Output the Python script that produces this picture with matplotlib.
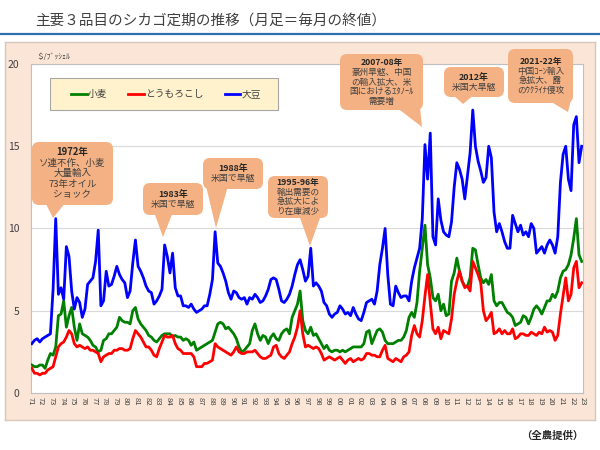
import numpy as np
import matplotlib
matplotlib.use('Agg')
import matplotlib.pyplot as plt
from matplotlib.patches import Rectangle, FancyBboxPatch, Polygon
from matplotlib.lines import Line2D
from matplotlib.transforms import IdentityTransform

plt.rcParams['font.family'] = ['Noto Sans CJK JP', 'DejaVu Sans']

# quarterly month-end closes, 4 per year (1971..2022), $/bushel
years = list(range(1971, 2023))

wheat = [
    1.7, 1.6, 1.6, 1.7,  1.7, 1.5, 2.0, 2.4,  2.3, 2.8, 4.7, 4.8,  5.6, 4.0, 4.7, 5.2,   # 71-74
    4.0, 3.2, 4.2, 3.6,  3.5, 3.4, 3.2, 2.9,  2.8, 2.5, 2.6, 3.2,  3.3, 3.6, 3.6, 3.8,   # 75-78
    4.0, 4.6, 4.4, 4.3,  4.3, 4.2, 5.0, 5.2,  4.5, 4.2, 4.0, 3.8,  3.5, 3.4, 3.2, 3.1,   # 79-82
    3.3, 3.5, 3.6, 3.6,  3.6, 3.4, 3.5, 3.4,  3.4, 3.2, 3.3, 3.2,  2.9, 3.1, 2.6, 2.7,   # 83-86
    2.8, 2.9, 3.0, 3.1,  3.2, 3.7, 4.2, 4.3,  4.2, 3.9, 4.0, 3.8,  3.6, 3.3, 2.8, 2.5,   # 87-90
    2.6, 2.8, 3.0, 3.8,  4.2, 3.6, 3.2, 3.5,  3.4, 3.0, 3.4, 3.6,  3.3, 3.2, 3.6, 3.8,   # 91-94
    3.9, 3.6, 4.6, 5.0,  5.4, 6.2, 4.4, 3.8,  3.6, 4.0, 3.5, 3.6,  3.3, 3.0, 2.7, 2.9,   # 95-98
    2.6, 2.5, 2.6, 2.6,  2.5, 2.6, 2.5, 2.6,  2.7, 2.8, 2.8, 2.8,  2.8, 3.0, 3.7, 3.8,   # 99-02
    3.0, 3.4, 3.8, 3.9,  3.7, 3.2, 3.0, 3.0,  3.0, 3.1, 3.2, 3.2,  3.4, 3.8, 4.6, 4.9,   # 03-06
    4.6, 5.5, 7.4, 8.8,  10.2, 7.8, 7.0, 5.8,  5.6, 6.0, 5.0, 5.4,  4.7, 4.8, 6.8, 7.3,  # 07-10
    8.2, 7.4, 6.8, 6.5,  6.5, 7.0, 8.8, 8.7,  7.8, 7.0, 6.7, 6.9,  6.6, 7.2, 5.6, 5.3,   # 11-14
    5.5, 5.5, 5.2, 4.9,  4.8, 4.6, 4.1, 4.2,  4.3, 4.7, 4.6, 4.2,  4.6, 5.1, 5.3, 5.1,   # 15-18
    4.8, 5.2, 5.6, 5.6,  6.0, 5.8, 6.2, 7.0,  7.4, 7.5, 7.8, 8.4,  9.4, 10.6, 8.4, 8.0,  # 19-22
]

corn = [
    1.5, 1.2, 1.2, 1.1,  1.2, 1.2, 1.4, 1.5,  1.6, 2.2, 2.8, 3.0,  3.1, 3.4, 3.8, 3.6,   # 71-74
    3.0, 2.8, 2.9, 2.8,  2.7, 2.8, 2.6, 2.6,  2.5, 2.4, 1.9, 2.2,  2.3, 2.4, 2.4, 2.6,   # 75-78
    2.6, 2.7, 2.7, 2.6,  2.6, 2.7, 3.3, 3.8,  3.6, 3.4, 3.1, 2.8,  2.8, 2.6, 2.3, 2.2,   # 79-82
    2.7, 3.1, 3.5, 3.4,  3.4, 3.5, 3.0, 2.7,  2.6, 2.4, 2.4, 2.4,  2.4, 2.2, 1.6, 1.6,   # 83-86
    1.6, 1.8, 1.8, 1.9,  2.0, 3.0, 2.8, 2.7,  2.6, 2.5, 2.4, 2.3,  2.5, 2.8, 2.5, 2.4,   # 87-90
    2.4, 2.5, 2.5, 2.5,  2.6, 2.4, 2.2, 2.1,  2.1, 2.2, 2.3, 2.8,  2.9, 2.4, 2.2, 2.1,   # 91-94
    2.3, 2.5, 3.0, 3.4,  4.0, 5.0, 3.6, 2.8,  2.9, 2.8, 2.7, 2.8,  2.7, 2.4, 2.0, 2.1,   # 95-98
    2.2, 2.1, 2.0, 2.1,  2.2, 2.0, 1.8, 2.0,  2.1, 1.9, 2.0, 2.1,  2.0, 2.1, 2.4, 2.4,   # 99-02
    2.3, 2.3, 2.2, 2.2,  2.6, 2.9, 2.1, 2.0,  1.9, 2.1, 2.0, 1.9,  2.2, 2.3, 2.5, 3.5,   # 03-06
    4.1, 3.6, 3.4, 4.4,  5.9, 7.2, 5.5, 3.9,  3.6, 4.0, 3.3, 3.8,  3.7, 3.6, 4.5, 6.0,   # 07-10
    6.8, 7.4, 6.8, 6.4,  6.5, 6.2, 8.0, 7.6,  7.2, 6.7, 5.0, 4.4,  4.6, 4.9, 3.6, 3.7,   # 11-14
    3.9, 3.6, 3.8, 3.6,  3.6, 3.9, 3.3, 3.4,  3.6, 3.6, 3.5, 3.5,  3.7, 3.6, 3.5, 3.7,   # 15-18
    3.6, 4.0, 3.7, 3.8,  3.7, 3.2, 3.5, 4.8,  5.9, 7.0, 5.6, 6.0,  7.6, 8.0, 6.4, 6.7,   # 19-22
]

soy = [
    3.0, 3.2, 3.3, 3.1,  3.3, 3.4, 3.5, 3.6,  6.3, 10.6, 6.0, 6.4,  5.7, 8.9, 8.3, 6.2,  # 71-74
    5.1, 5.8, 5.5, 4.6,  5.1, 6.6, 6.8, 7.0,  8.0, 9.9, 5.3, 5.6,  7.4, 6.5, 6.6, 7.1,   # 75-78
    7.7, 7.2, 6.9, 6.7,  5.8, 6.2, 7.9, 9.3,  7.7, 7.4, 7.0, 6.5,  6.2, 6.1, 5.4, 5.6,   # 79-82
    5.9, 6.3, 9.0, 8.3,  7.3, 8.5, 6.4, 5.9,  5.9, 5.3, 5.3, 5.2,  5.4, 5.1, 4.9, 5.0,   # 83-86
    5.1, 5.3, 5.3, 6.0,  6.9, 9.8, 7.9, 7.7,  7.3, 6.8, 6.1, 5.7,  6.2, 6.1, 5.8, 5.7,   # 87-90
    5.8, 5.4, 5.8, 5.7,  6.0, 5.8, 5.5, 5.6,  5.9, 6.3, 6.9, 7.0,  6.9, 6.3, 5.6, 5.5,   # 91-94
    5.7, 6.0, 6.5, 7.2,  7.8, 8.1, 7.5, 6.8,  7.1, 8.8, 6.5, 6.7,  6.5, 6.2, 5.5, 5.3,   # 95-98
    4.8, 4.6, 4.8, 4.9,  5.3, 5.1, 4.8, 4.9,  4.7, 5.2, 4.8, 4.5,  4.4, 4.9, 5.5, 5.6,   # 99-02
    5.7, 5.4, 6.2, 7.8,  8.8, 10.0, 7.2, 5.4,  5.3, 6.5, 6.1, 5.8,  5.9, 5.9, 5.6, 6.8,  # 03-06
    7.6, 8.2, 8.8, 10.6,  15.1, 13.0, 15.8, 9.5,  9.0, 11.8, 10.5, 9.8,  9.6, 9.5, 10.4, 12.5,  # 07-10
    14.0, 13.6, 13.0, 11.8,  13.2, 14.6, 17.2, 15.0,  14.1, 13.5, 12.8, 13.1,  15.0, 14.3, 11.0, 9.8,  # 11-14
    10.3, 9.8, 9.2, 8.8,  8.8, 10.8, 10.3, 9.8,  10.2, 9.6, 9.8, 9.5,  10.3, 10.0, 8.5, 8.7,  # 15-18
    8.9, 8.5, 9.0, 9.3,  9.0, 8.5, 9.5, 12.8,  14.5, 15.0, 13.0, 12.3,  16.3, 16.8, 14.0, 15.0,  # 19-22
]

tick_years = list(range(1971, 2024))
tick_labels = ['%02d' % (y % 100) for y in tick_years]
y_ticks = [0, 5, 10, 15, 20]

# callout texts (first line bold)
callout_texts = [
    ["1972年", "ソ連不作、小麦", "大量輸入", "73年オイル", "ショック"],
    ["1983年", "米国で旱魃"],
    ["1988年", "米国で旱魃"],
    ["1995-96年", "輸出需要の", "急拡大によ", "り在庫減少"],
    ["2007-08年", "豪州旱魃、中国", "の輸入拡大、米", "国におけるｴﾀﾉｰﾙ", "需要増"],
    ["2012年", "米国大旱魃"],
    ["2021-22年", "中国ｺｰﾝ輸入", "急拡大、露", "のｳｸﾗｲﾅ侵攻"],
]
# layout in picture pixels: box (x0, y0, x1, y1), pointer base (xa, xb) and tip (x, y)
callout_boxes = [(32, 142, 113, 205), (143, 183, 203, 215), (203, 158, 263, 189), (268, 176, 328, 218),
                 (340, 54, 423, 110), (444, 67, 504, 97), (508, 49, 573, 103)]
callout_bases = [(45, 66), (154, 173), (206, 228), (299, 321), (396, 420), (452, 475), (548, 571)]
callout_tips = [(53, 218), (163, 237), (216, 228), (310, 246), (422, 127), (463, 104), (568, 112)]
callout_fs = [6.8, 6.4, 6.4, 6.2, 6.2, 6.4, 6.2]

t = (np.array(years)[:, None] + (np.arange(4) + 0.5) / 4).ravel()

W, H = 600, 450
fig = plt.figure(figsize=(6, 4.5), dpi=100)

# peach background panel (own axes underneath) and title rule
bg = fig.add_axes([5 / W, 30 / H, 590 / W, 378 / H], zorder=-5)
bg.set_facecolor('#FBE5D6')
bg.set_xticks([])
bg.set_yticks([])
for s in bg.spines.values():
    s.set_color('#D6C6BC')
    s.set_linewidth(1)

fig.add_artist(Line2D([0, 1], [1 - 34 / H, 1 - 34 / H], color='#2F6FB0', lw=1.6))
fig.text(35 / W, 1 - 21 / H, '主要３品目のシカゴ定期の推移（月足＝毎月の終値）',
         fontsize=10.5, color='#404040', va='center', ha='left')
fig.text(583 / W, 1 - 436 / H, '（全農提供）', fontsize=7.5, fontweight='bold',
         color='#262626', va='center', ha='right')
fig.text(36 / W, 1 - 57 / H, '＄/ﾌﾞｯｼｪﾙ', fontsize=5.5, color='#404040', va='center', ha='left')

ax = fig.add_axes([30.5 / W, 57 / H, 552.5 / W, 329 / H], zorder=1)
ax.set_facecolor('white')
for s in ax.spines.values():
    s.set_color('#BFBFBF')
    s.set_linewidth(0.8)

ax.plot(t, wheat, color='#008000', lw=2, label='小麦', zorder=3)
ax.plot(t, corn, color='#FF0000', lw=2, label='とうもろこし', zorder=3)
ax.plot(t, soy, color='#0000FF', lw=2, label='大豆', zorder=4)

ax.set_xlim(1971, 2023)
ax.set_ylim(0, 20)
ax.set_yticks(y_ticks)
ax.set_yticklabels([str(v) for v in y_ticks], fontsize=7.5, color='#404040')
ax.set_xticks(tick_years)
ax.set_xticklabels(tick_labels, rotation=270, fontsize=5.5, color='#404040')
ax.tick_params(axis='both', length=0)
ax.tick_params(axis='y', pad=8)
ax.tick_params(axis='x', pad=3)
ax.grid(axis='y', color='#D9D9D9', lw=0.8, zorder=0)
ax.set_axisbelow(True)

# legend box
ax.add_patch(Rectangle((50 / W, 1 - 110 / H), 228 / W, 32 / H, transform=fig.transFigure,
                       fc='#FFF2CC', ec='#A6A6A6', lw=0.8, zorder=5, clip_on=False))
leg = ax.legend(loc='center', bbox_to_anchor=(166 / W, 1 - 94 / H), bbox_transform=fig.transFigure,
                ncol=3, frameon=False, fontsize=7, handlelength=1.6, handletextpad=0.1,
                columnspacing=2.2, labelcolor='#404040')
leg.set_zorder(6)

# callouts, drawn in picture pixels (y flipped)
box_col = '#F4B183'
pix = IdentityTransform()
for lines, (x0, y0, x1, y1), (xa, xb), (tx, ty), fs in zip(callout_texts, callout_boxes,
                                                           callout_bases, callout_tips, callout_fs):
    ax.add_patch(FancyBboxPatch((x0, H - y1), x1 - x0, y1 - y0,
                                boxstyle='round,pad=0,rounding_size=7', transform=pix,
                                fc=box_col, ec='none', zorder=7, clip_on=False))
    ax.add_patch(Polygon([(xa, H - y1 + 3), (xb, H - y1 + 3), (tx, H - ty)], closed=True,
                         transform=pix, fc=box_col, ec='none', zorder=7, clip_on=False))
    pitch = fs * 1.56
    cx = (x0 + x1) / 2
    top = (y0 + y1) / 2 - len(lines) * pitch / 2
    for i, line in enumerate(lines):
        ax.text(cx, H - (top + (i + 0.5) * pitch), line, transform=pix, ha='center', va='center',
                fontsize=fs, color='#262626' if i == 0 else '#404040',
                fontweight='bold' if i == 0 else 'normal', zorder=8, clip_on=False)

fig.savefig('out.png', dpi=100)
